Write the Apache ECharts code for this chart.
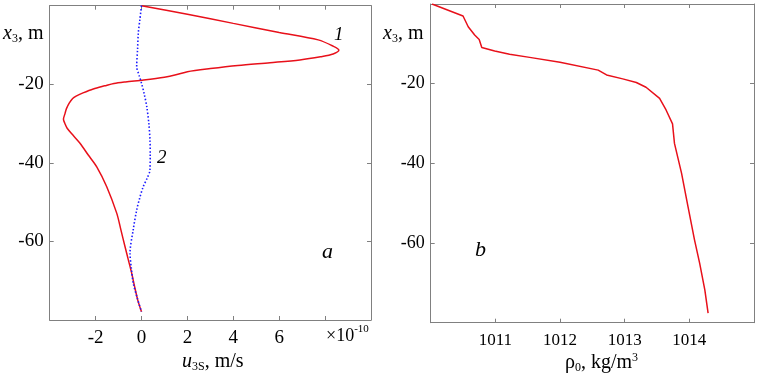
<!DOCTYPE html>
<html>
<head>
<meta charset="utf-8">
<script src="https://cdn.jsdelivr.net/npm/echarts@6/dist/echarts.min.js"></script>
<style>html,body{margin:0;padding:0;background:#fff}#c{width:759px;height:383px}</style>
</head>
<body>
<div id="c"></div>
<script>
// Panel a: curve 1 (red), u3s ×1e-10 m/s vs depth x3 (m)
const u1Depth = [0, -2.2, -4.5, -6.8, -8.7, -10.3, -11.3, -12.3, -13.0, -13.8, -14.5, -15.2, -16.0, -16.8, -17.6, -18.2, -18.9, -19.4, -19.8, -20.4, -21.2, -22.2, -23.0, -23.6, -24.8, -26.2, -27.4, -28.9, -30.1, -31.2, -33.0, -35.0, -38.0, -41.0, -46.0, -52.8, -57.0, -61.3, -65.0, -68.0, -71.5, -75.0, -77.9];
const u1Vals  = [0, 2.0, 4.0, 6.0, 7.7, 8.35, 8.6, 8.35, 7.8, 6.9, 5.6, 4.2, 3.0, 2.0, 1.5, 1.0, 0.1, -0.7, -1.2, -1.6, -2.1, -2.55, -2.85, -3.0, -3.15, -3.27, -3.33, -3.4, -3.33, -3.24, -2.98, -2.68, -2.32, -1.95, -1.52, -1.08, -0.9, -0.72, -0.56, -0.43, -0.3, -0.16, 0];

// Panel a: curve 2 (blue dotted)
const u2Depth = [0, -3.5, -7.0, -11.0, -15.5, -17.8, -19.7, -22.5, -25.7, -30.0, -34.2, -38.0, -41.8, -44.0, -46.0, -49.0, -52.0, -57.0, -63.0, -67.0, -70.6, -74.5, -77.9];
const u2Vals  = [0, -0.07, -0.14, -0.17, -0.21, -0.1, 0.0, 0.12, 0.23, 0.32, 0.37, 0.38, 0.37, 0.24, 0.08, -0.08, -0.21, -0.36, -0.5, -0.44, -0.36, -0.18, 0];

// Panel b: density rho0 (kg/m^3) vs depth
const rhoDepth = [0, -3.0, -5.7, -7.8, -8.9, -10.9, -11.8, -12.6, -13.4, -14.6, -16.6, -17.8, -18.8, -19.7, -20.9, -23.7, -26.6, -30.1, -35.0, -42.5, -50.9, -59.2, -65.1, -71.8, -77.6];
const rhoVals  = [1010.02, 1010.50, 1010.58, 1010.68, 1010.75, 1010.79, 1010.99, 1011.22, 1011.53, 1012.0, 1012.59, 1012.72, 1012.97, 1013.18, 1013.33, 1013.54, 1013.64, 1013.74, 1013.77, 1013.88, 1013.98, 1014.08, 1014.16, 1014.24, 1014.29];

const uTickLabels = [-2, 0, 2, 4, 6];
const rhoTickLabels = [1011, 1012, 1013, 1014];
const depthTickLabels = [-20, -40, -60];

const pairs = (xs, ys) => xs.map((x, i) => [x, ys[i]]);

const FONT = '"Liberation Serif", "Times New Roman", serif';
const AX = '#808080';

function xAx(gi, min, max, interval, labels, pos, show, fs) {
  return {
    type: 'value', gridIndex: gi, min, max, interval, position: pos,
    axisLine: { show: true, onZero: false, lineStyle: { color: AX, width: 1 } },
    axisTick: { show: true, inside: true, length: 4, lineStyle: { color: AX } },
    splitLine: { show: false },
    axisLabel: {
      show: show, margin: 9, color: '#000', fontFamily: FONT, fontSize: fs,
      formatter: v => labels.indexOf(Math.round(v * 1000) / 1000) >= 0 ? String(v) : ''
    }
  };
}
function yAx(gi, pos, show, fs) {
  return {
    type: 'value', gridIndex: gi, min: -80, max: 0, interval: 20, position: pos,
    axisLine: { show: true, onZero: false, lineStyle: { color: AX, width: 1 } },
    axisTick: { show: true, inside: true, length: 4, lineStyle: { color: AX } },
    splitLine: { show: false },
    axisLabel: {
      show: show, margin: 6, color: '#000', fontFamily: FONT, fontSize: fs,
      formatter: v => depthTickLabels.indexOf(v) >= 0 ? String(v) : ''
    }
  };
}

const chart = echarts.init(document.getElementById('c'), null, { renderer: 'canvas' });

const rich = {
  it: { fontFamily: FONT, fontStyle: 'italic', fontSize: 20, color: '#000' },
  sub: { fontFamily: FONT, fontSize: 12, color: '#000', padding: [10, 0, 0, 0] },
  sup: { fontFamily: FONT, fontSize: 12, color: '#000', padding: [0, 0, 10, 0] },
  n: { fontFamily: FONT, fontSize: 20, color: '#000' }
};

chart.setOption({
  animation: false,
  backgroundColor: '#fff',
  grid: [
    { left: 49.7, top: 5.7, width: 321.3, height: 314.3 },
    { left: 430.7, top: 4, width: 323.3, height: 318.7 }
  ],
  xAxis: [
    xAx(0, -4, 10, 2, uTickLabels, 'bottom', true, 19),
    xAx(0, -4, 10, 2, uTickLabels, 'top', false, 19),
    xAx(1, 1010, 1015, 1, rhoTickLabels, 'bottom', true, 17),
    xAx(1, 1010, 1015, 1, rhoTickLabels, 'top', false, 17)
  ],
  yAxis: [
    yAx(0, 'left', true, 19),
    yAx(0, 'right', false, 19),
    yAx(1, 'left', true, 18),
    yAx(1, 'right', false, 18)
  ],
  series: [
    { type: 'line', name: '1', xAxisIndex: 0, yAxisIndex: 0, data: pairs(u1Vals, u1Depth),
      smooth: 0.3, showSymbol: false, lineStyle: { color: '#e8101a', width: 1.5 } },
    { type: 'line', name: '2', xAxisIndex: 0, yAxisIndex: 0, data: pairs(u2Vals, u2Depth),
      smooth: 0.3, showSymbol: false, lineStyle: { color: '#1a1aff', width: 1.6, type: [1.5, 2] } },
    { type: 'line', name: 'rho', xAxisIndex: 2, yAxisIndex: 2, data: pairs(rhoVals, rhoDepth),
      smooth: false, showSymbol: false, lineStyle: { color: '#e8101a', width: 1.5 } }
  ],
  graphic: [
    { type: 'text', left: 3, top: 24, style: { rich, text: '{it|x}{sub|3}{n|, m}' } },
    { type: 'text', left: 383, top: 24, style: { rich, text: '{it|x}{sub|3}{n|, m}' } },
    { type: 'text', left: 182, top: 352, style: { rich, text: '{it|u}{sub|3S}{n|, m/s}' } },
    { type: 'text', left: 565, top: 352, style: { rich, text: '{n|ρ}{sub|0}{n|, kg/m}{sup|3}' } },
    { type: 'text', left: 326, top: 324, style: { rich: {
        n: { fontFamily: FONT, fontSize: 18, color: '#000' },
        sup: { fontFamily: FONT, fontSize: 11, color: '#000', padding: [0, 0, 13, 0] } },
        text: '{n|×10}{sup|-10}' } },
    { type: 'text', left: 334, top: 25, style: { text: '1', font: 'italic 19px ' + FONT, fill: '#000' } },
    { type: 'text', left: 157, top: 148, style: { text: '2', font: 'italic 19px ' + FONT, fill: '#000' } },
    { type: 'text', left: 322, top: 241, style: { text: 'a', font: 'italic 22px ' + FONT, fill: '#000' } },
    { type: 'text', left: 475, top: 239, style: { text: 'b', font: 'italic 22px ' + FONT, fill: '#000' } }
  ]
});
</script>
</body>
</html>
